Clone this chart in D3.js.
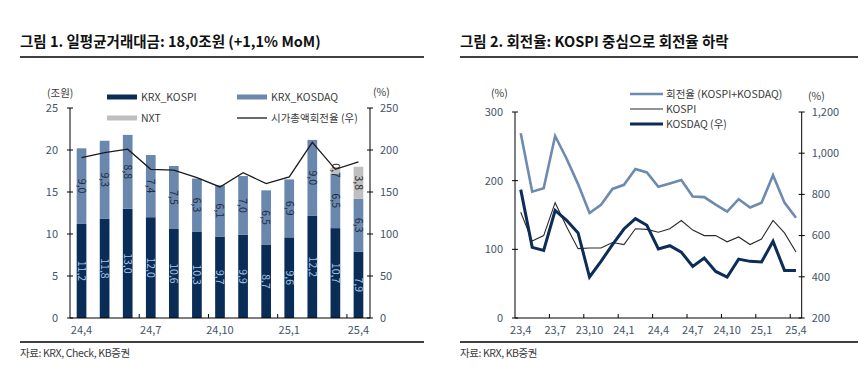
<!DOCTYPE html>
<html>
<head>
<meta charset="utf-8">
<script src="https://cdn.jsdelivr.net/npm/d3@7"></script>
<style>
  body { margin: 0; background: #fff; }
  text { font-family: "Noto Sans CJK KR", "Noto Sans", sans-serif; }
</style>
</head>
<body>
<svg id="chart" width="863" height="367"></svg>
<script>
// ---- data: figure 1 (daily avg trading value, trillion won) ----
const barMonths = ["24.4", "24.5", "24.6", "24.7", "24.8", "24.9", "24.10", "24.11", "24.12", "25.1", "25.2", "25.3", "25.4"];
const kospiValue = [11.2, 11.8, 13.0, 12.0, 10.6, 10.3, 9.7, 9.9, 8.7, 9.6, 12.2, 10.7, 7.9];
const kosdaqValue = [9.0, 9.3, 8.8, 7.4, 7.5, 6.3, 6.1, 7.0, 6.5, 6.9, 9.0, 6.5, 6.3];
const nxtValue = [0, 0, 0, 0, 0, 0, 0, 0, 0, 0, 0, 0.7, 3.8];
const capTurnover = [191, 197, 201, 177, 176, 167, 156, 173, 160, 168, 209, 177, 186];
const barTickLabels = ["24.4", "24.7", "24.10", "25.1", "25.4"];

// ---- data: figure 2 (turnover, %) ----
const lineMonths = ["23.4", "23.5", "23.6", "23.7", "23.8", "23.9", "23.10", "23.11", "23.12",
  "24.1", "24.2", "24.3", "24.4", "24.5", "24.6", "24.7", "24.8", "24.9", "24.10", "24.11", "24.12",
  "25.1", "25.2", "25.3", "25.4"];
const totalTurnover = [269, 184, 189, 265, 232, 195, 153, 165, 188, 194, 217, 212, 191, 196, 201, 177, 176, 165, 155, 173, 161, 168, 208, 168, 146];
const kospiTurnover = [154, 112, 120, 168, 133, 101, 102, 102, 110, 107, 130, 129, 125, 130, 142, 128, 120, 120, 111, 118, 107, 115, 142, 124, 96];
const kosdaqTurnover = [823, 543, 528, 722, 674, 613, 399, 475, 556, 632, 682, 650, 535, 551, 520, 450, 491, 426, 399, 486, 475, 472, 572, 431, 431];
const lineTickLabels = ["23.4", "23.7", "23.10", "24.1", "24.4", "24.7", "24.10", "25.1", "25.4"];

const comma = (s) => s.replace(".", ",");
const fmt1 = (v) => comma(d3.format(".1f")(v));
const axisColor = "#44546a";
const textColor = "#3a3a3a";

const svg = d3.select("#chart");

// ---- titles, rules, sources ----
function header(x0, x1, title, source) {
  svg.append("text")
    .attr("x", x0).attr("y", 47)
    .attr("font-size", 14.5).attr("font-weight", "bold").attr("fill", "#111")
    .text(title);
  svg.append("line")
    .attr("x1", x0).attr("x2", x1).attr("y1", 57).attr("y2", 57)
    .attr("stroke", "#000").attr("stroke-width", 1.3);
  svg.append("line")
    .attr("x1", x0).attr("x2", x1).attr("y1", 342).attr("y2", 342)
    .attr("stroke", "#000").attr("stroke-width", 1.3);
  svg.append("text")
    .attr("x", x0).attr("y", 357)
    .attr("font-size", 10.5).attr("fill", textColor).attr("letter-spacing", -0.4)
    .text(source);
}
header(20, 424, "그림 1. 일평균거래대금: 18,0조원 (+1,1% MoM)", "자료: KRX, Check, KB증권");
header(460, 858, "그림 2. 회전율: KOSPI 중심으로 회전율 하락", "자료: KRX, KB증권");

// ---- shared axis helpers ----
function yAxis(scale, x, ticks, side, format) {
  svg.append("line")
    .attr("x1", x).attr("x2", x)
    .attr("y1", scale.range()[0]).attr("y2", scale.range()[1])
    .attr("stroke", "#000");
  ticks.forEach((t) => {
    svg.append("line")
      .attr("x1", x - 3).attr("x2", x + 3)
      .attr("y1", scale(t)).attr("y2", scale(t))
      .attr("stroke", "#000");
    svg.append("text")
      .attr("x", side === "left" ? x - 12 : x + 10)
      .attr("y", scale(t)).attr("dy", "0.35em")
      .attr("text-anchor", side === "left" ? "end" : "start")
      .attr("font-size", 11).attr("fill", axisColor)
      .text(format(t));
  });
}

function xAxis(scale, months, labels, y) {
  const r = scale.range();
  svg.append("line")
    .attr("x1", r[0]).attr("x2", r[1]).attr("y1", y).attr("y2", y)
    .attr("stroke", "#000");
  labels.forEach((m, i) => {
    if (i > 0) {
      svg.append("line")
        .attr("x1", scale(m)).attr("x2", scale(m))
        .attr("y1", y).attr("y2", y - 4)
        .attr("stroke", "#000");
    }
    svg.append("text")
      .attr("x", scale(m) + scale.bandwidth() / 2).attr("y", y + 16)
      .attr("text-anchor", "middle")
      .attr("font-size", 11).attr("fill", axisColor)
      .text(comma(m));
  });
}

// ---- figure 1 ----
const xL = d3.scaleBand().domain(barMonths).range([70, 370]).padding(0);
const yL = d3.scaleLinear().domain([0, 25]).range([318, 108]);
const yLR = d3.scaleLinear().domain([0, 250]).range([318, 108]);
const barW = xL.bandwidth() * 0.42;

const rows = barMonths.map((m, i) => ({ month: m, kospi: kospiValue[i], kosdaq: kosdaqValue[i], nxt: nxtValue[i] }));
const stack = d3.stack().keys(["kospi", "kosdaq", "nxt"])(rows);
const barColor = { kospi: "#0a2d58", kosdaq: "#6a87ad", nxt: "#bfbfbf" };
const labelColor = { kospi: "#a9c4e4", kosdaq: "#1d2c45", nxt: "#2a2a2a" };

stack.forEach((layer) => {
  const g = svg.append("g");
  g.selectAll("rect")
    .data(layer.filter((d) => d[1] > d[0]))
    .join("rect")
    .attr("x", (d) => xL(d.data.month) + (xL.bandwidth() - barW) / 2)
    .attr("width", barW)
    .attr("y", (d) => yL(d[1]))
    .attr("height", (d) => yL(d[0]) - yL(d[1]))
    .attr("fill", barColor[layer.key]);
  g.selectAll("text")
    .data(layer.filter((d) => d[1] > d[0]))
    .join("text")
    .attr("transform", (d) => {
      const cx = xL(d.data.month) + xL.bandwidth() / 2;
      const cy = yL((d[0] + d[1]) / 2);
      return `translate(${cx},${cy}) rotate(90)`;
    })
    .attr("text-anchor", "middle").attr("dy", "0.35em")
    .attr("font-size", 10.5).attr("fill", labelColor[layer.key])
    .text((d) => fmt1(d[1] - d[0]));
});

svg.append("path")
  .datum(capTurnover)
  .attr("fill", "none").attr("stroke", "#1a1a1a").attr("stroke-width", 1.3)
  .attr("d", d3.line()
    .x((d, i) => xL(barMonths[i]) + xL.bandwidth() / 2)
    .y((d) => yLR(d)));

yAxis(yL, 70, d3.range(0, 26, 5), "left", (d) => d);
yAxis(yLR, 370, d3.range(0, 251, 50), "right", (d) => d);
xAxis(xL, barMonths, barTickLabels, 318);

svg.append("text").attr("x", 47).attr("y", 97).attr("font-size", 10.5).attr("fill", textColor).text("(조원)");
svg.append("text").attr("x", 373).attr("y", 96).attr("font-size", 10.5).attr("fill", textColor).text("(%)");

// legend 1
const leg1 = [
  { x: 107, y: 97, label: "KRX_KOSPI", type: "rect", color: barColor.kospi },
  { x: 237, y: 97, label: "KRX_KOSDAQ", type: "rect", color: barColor.kosdaq },
  { x: 107, y: 118, label: "NXT", type: "rect", color: barColor.nxt },
  { x: 237, y: 118, label: "시가총액회전율 (우)", type: "line", color: "#1a1a1a" }
];
leg1.forEach((d) => {
  if (d.type === "rect") {
    svg.append("rect").attr("x", d.x).attr("y", d.y - 2.5).attr("width", 30).attr("height", 5).attr("fill", d.color);
  } else {
    svg.append("line").attr("x1", d.x).attr("x2", d.x + 30).attr("y1", d.y).attr("y2", d.y)
      .attr("stroke", d.color).attr("stroke-width", 1.3);
  }
  svg.append("text").attr("x", d.x + 34).attr("y", d.y).attr("dy", "0.35em")
    .attr("font-size", 10.5).attr("fill", textColor).text(d.label);
});

// ---- figure 2 ----
const xR = d3.scaleBand().domain(lineMonths).range([515, 801.7]).padding(0);
const yA = d3.scaleLinear().domain([0, 300]).range([318, 112]);
const yB = d3.scaleLinear().domain([200, 1200]).range([318, 112]);
const cx = (i) => xR(lineMonths[i]) + xR.bandwidth() / 2;

const series2 = [
  { values: totalTurnover, scale: yA, color: "#6d8ab1", width: 2.6, label: "회전율 (KOSPI+KOSDAQ)" },
  { values: kospiTurnover, scale: yA, color: "#2a2a2a", width: 1.1, label: "KOSPI" },
  { values: kosdaqTurnover, scale: yB, color: "#0b2d57", width: 3, label: "KOSDAQ (우)" }
];
series2.forEach((s) => {
  svg.append("path")
    .datum(s.values)
    .attr("fill", "none").attr("stroke", s.color).attr("stroke-width", s.width)
    .attr("stroke-linejoin", "miter")
    .attr("d", d3.line().x((d, i) => cx(i)).y((d) => s.scale(d)));
});

yAxis(yA, 515, [0, 100, 200, 300], "left", (d) => d);
yAxis(yB, 801.7, d3.range(200, 1201, 200), "right", d3.format(","));
xAxis(xR, lineMonths, lineTickLabels, 318);

svg.append("text").attr("x", 491).attr("y", 97).attr("font-size", 10.5).attr("fill", textColor).text("(%)");
svg.append("text").attr("x", 808).attr("y", 100).attr("font-size", 10.5).attr("fill", textColor).text("(%)");

series2.forEach((s, i) => {
  const y = [94, 109, 124][i];
  svg.append("line").attr("x1", 630).attr("x2", 663).attr("y1", y).attr("y2", y)
    .attr("stroke", s.color).attr("stroke-width", s.width);
  svg.append("text").attr("x", 666).attr("y", y).attr("dy", "0.35em")
    .attr("font-size", 10.5).attr("fill", textColor).text(s.label);
});
</script>
</body>
</html>
